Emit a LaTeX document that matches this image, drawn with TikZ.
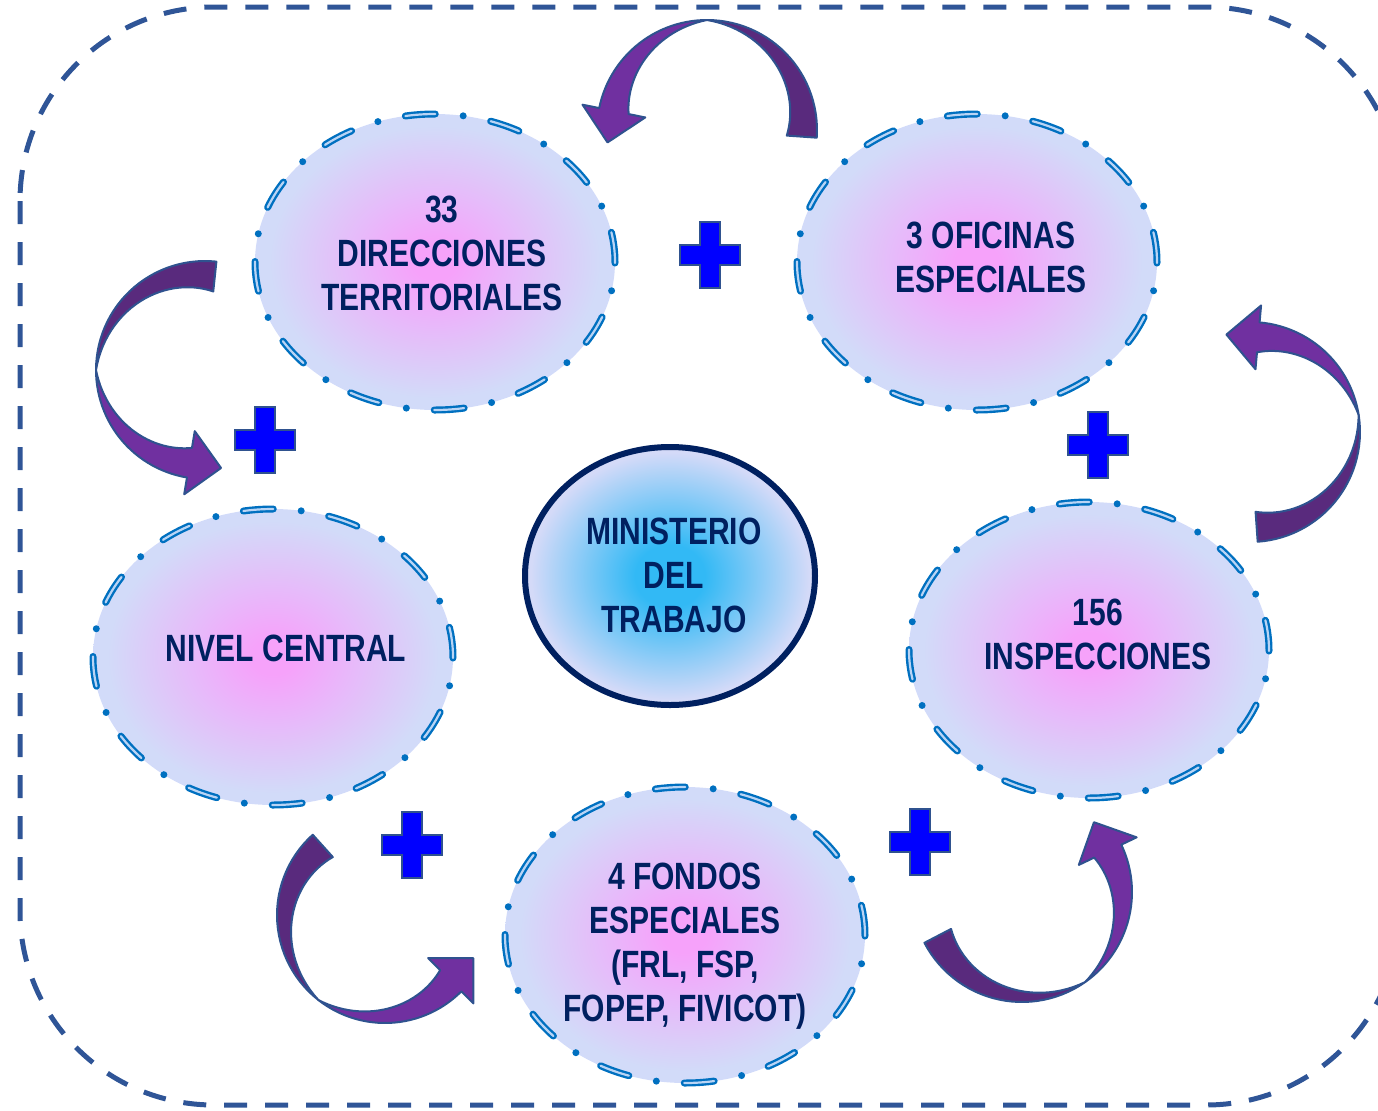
\documentclass[tikz,border=0pt]{standalone}
\usepackage{fontspec}
\usepackage{tikz}
\usetikzlibrary{shapes.geometric}
\setmainfont{Liberation Sans}[FakeStretch=0.79]

\definecolor{framecol}{RGB}{47,85,151}
\definecolor{inkcol}{RGB}{0,32,96}
\definecolor{dotcol}{RGB}{0,112,192}
\definecolor{dashin}{RGB}{185,212,245}
\definecolor{petalin}{RGB}{246,162,250}
\definecolor{petalout}{RGB}{210,219,249}
\definecolor{hubin}{RGB}{50,185,245}
\definecolor{hubout}{RGB}{212,218,248}
\definecolor{arrowdark}{RGB}{89,42,125}
\definecolor{arrowlight}{RGB}{112,48,160}
\definecolor{arrowline}{RGB}{47,82,143}
\definecolor{plusfill}{RGB}{0,0,255}

\pgfdeclareradialshading{petalshade}{\pgfpoint{0bp}{0bp}}{color(0bp)=(petalin); color(3bp)=(petalin); color(23bp)=(petalout); color(50bp)=(petalout)}
\pgfdeclareradialshading{hubshade}{\pgfpoint{0bp}{0bp}}{color(0bp)=(hubin); color(6bp)=(hubin); color(24bp)=(hubout); color(50bp)=(hubout)}

% bent block arrow: centre x, centre y, radius, tail, pinch, head angle
\newcommand{\turnarrow}[6]{%
  \pgfmathsetmacro{\turns}{((#6)>(#5))?1:-1}
  \pgfmathsetmacro{\tipx}{#1+((#3)-15)*cos(#6)-\turns*32*sin(#6)}
  \pgfmathsetmacro{\tipy}{#2+((#3)-15)*sin(#6)+\turns*32*cos(#6)}
  \filldraw[arrowback] plot[domain=#4:#5, samples=30, variable=\t] ({#1+(#3)*cos(\t)},{#2+(#3)*sin(\t)})
    -- plot[domain=#5:#4, samples=30, variable=\t] ({#1+((#3)-30*(\t-(#5))/((#4)-(#5)))*cos(\t)},{#2+((#3)-30*(\t-(#5))/((#4)-(#5)))*sin(\t)})
    -- cycle;
  \filldraw[arrowfront] plot[domain=#5:#6, samples=30, variable=\t] ({#1+(#3)*cos(\t)},{#2+(#3)*sin(\t)})
    -- ({#1+((#3)+17)*cos(#6)},{#2+((#3)+17)*sin(#6)})
    -- (\tipx,\tipy)
    -- ({#1+((#3)-47)*cos(#6)},{#2+((#3)-47)*sin(#6)})
    -- plot[domain=#6:#5, samples=30, variable=\t] ({#1+((#3)-30*(\t-(#5))/((#6)-(#5)))*cos(\t)},{#2+((#3)-30*(\t-(#5))/((#6)-(#5)))*sin(\t)})
    -- cycle;
}

\begin{document}
\begin{tikzpicture}[x=0.5pt, y=-0.5pt,
  petal/.style={ellipse, minimum width=180pt, minimum height=148pt, inner sep=0pt,
    shade, shading=petalshade, draw=dotcol, line width=3.5pt, line cap=round,
    dash pattern=on 15pt off 14pt on 0pt off 14pt,
    postaction={draw=dashin, line width=1.1pt, line cap=round, dash pattern=on 15pt off 28pt}},
  hub/.style={ellipse, minimum width=145pt, minimum height=129pt, inner sep=0pt,
    shade, shading=hubshade, draw=inkcol, line width=3pt},
  unittext/.style={text=inkcol, font=\fontsize{19}{22}\selectfont\bfseries, align=center, inner sep=0pt},
  arrowback/.style={fill=arrowdark, draw=arrowline, line width=1pt, line join=round},
  arrowfront/.style={fill=arrowlight, draw=arrowline, line width=1pt, line join=round},
  plussign/.pic={\filldraw[fill=plusfill, draw=arrowline, line width=1pt]
    (-10,-33) -- (10,-33) -- (10,-10) -- (30,-10) -- (30,10) -- (10,10) -- (10,33)
    -- (-10,33) -- (-10,10) -- (-30,10) -- (-30,-10) -- (-10,-10) -- cycle;}]
\useasboundingbox (0,0) rectangle (1378,1110);
\clip (0,0) rectangle (1378,1110);

% dashed frame
\draw[draw=framecol, line width=2.5pt, dash pattern=on 11.5pt off 9pt, rounded corners=97pt]
  (20,7) rectangle (1400,1105);

% the five units and the ministry
\node[petal] (dir) at (435,262) {};
\node[petal] (ofi) at (977,262) {};
\node[petal] (niv) at (273,657) {};
\node[petal] (ins) at (1089,650) {};
\node[petal] (fon) at (685,935) {};
\node[hub] (min) at (670,576) {};

\node[unittext] (dirtxt) at (442,253) {33\\DIRECCIONES\\TERRITORIALES};
\node[unittext] (ofitxt) at (991,257) {3 OFICINAS\\ESPECIALES};
\node[unittext] (nivtxt) at (286,648) {NIVEL CENTRAL};
\node[unittext] (instxt) at (1098,634) {156\\INSPECCIONES};
\node[unittext] (fontxt) at (685,946) {4 FONDOS\\ESPECIALES\\(FRL, FSP,\\FOPEP, FIVICOT)};
\node[unittext] (mintxt) at (674,575) {MINISTERIO\\DEL\\TRABAJO};

% plus signs
\foreach \p in {(710,255), (265,440), (1098,445), (412,845), (920,842)}
  \pic at \p {plussign};

% bent arrows
\turnarrow{707}{130}{110}{4}{-90}{-168.5}
\turnarrow{205}{370}{109}{-84}{-180}{-260.5}
\turnarrow{1250}{432}{110}{86}{-9}{-85}
\turnarrow{385}{915}{108}{228}{128}{45}
\turnarrow{1022}{892}{110}{152.5}{55}{-25.5}
\end{tikzpicture}
\end{document}
